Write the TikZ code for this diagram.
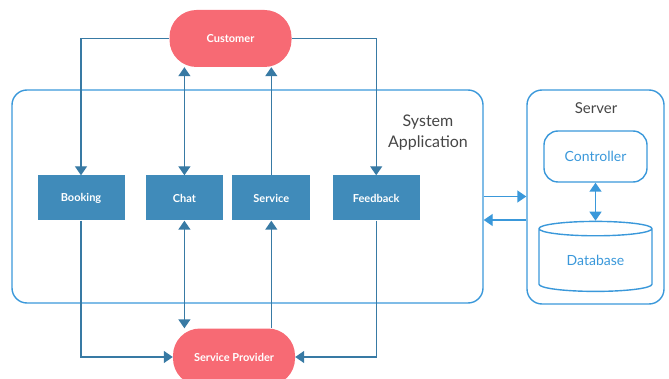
\documentclass[tikz,border=0pt]{standalone}
\usepackage{fontspec}
\setmainfont{Lato}
\usetikzlibrary{positioning, arrows.meta, shapes.geometric}
\definecolor{custred}{RGB}{247,106,116}
\definecolor{modblue}{RGB}{64,139,186}
\definecolor{linkblue}{RGB}{56,122,164}
\definecolor{frameblue}{RGB}{58,152,218}
\definecolor{txtgrey}{RGB}{70,70,70}
\tikzset{
  >={Triangle[width=12pt,length=9pt]},
  pill/.style={fill=custred, rounded corners=27pt, minimum width=122pt,
    minimum height=57pt, inner sep=0pt, text=white,
    font=\bfseries\fontsize{11}{13}\selectfont},
  module/.style={fill=modblue, minimum height=45pt, inner sep=0pt,
    text=white, font=\bfseries\fontsize{11}{13}\selectfont},
  frame/.style={draw=frameblue, line width=1.4pt, rounded corners=15pt, inner sep=0pt},
  link/.style={draw=linkblue, line width=1.4pt},
  srvlink/.style={draw=frameblue, line width=1.4pt},
}

\begin{document}
\begin{tikzpicture}[x=1pt, y=-1pt]
  \clip (0,0) rectangle (669,379);

  % containers
  \node[frame, minimum width=471pt, minimum height=213pt] (sys) at (247.5,196.5) {};
  \node[frame, minimum width=137pt, minimum height=214pt] (srv) at (595.5,197) {};
  \node[text=txtgrey, align=center, font=\fontsize{16}{21}\selectfont] (sysl) at (428,133) {System\\Application};
  \node[text=txtgrey, font=\fontsize{15}{18}\selectfont] (srvl) at (596,108) {Server};

  % actors
  \node[pill] (cust) at (230.5,38.5) {Customer};
  \node[pill] (sp) at (234,357) {Service Provider};

  % modules
  \node[module, minimum width=87pt] (book) at (81,198) {Booking};
  \node[module, minimum width=77pt, right=21pt of book] (chat) {Chat};
  \node[module, minimum width=78pt, right=9pt of chat] (serv) {Service};
  \node[module, minimum width=87pt, right=22pt of serv] (feed) {Feedback};

  % server parts
  \node[draw=frameblue, line width=1.4pt, rounded corners=14pt, minimum width=103pt,
    minimum height=51pt, text=frameblue, font=\fontsize{14}{17}\selectfont] (ctrl) at (595.5,156.5) {Controller};
  \node[draw=frameblue, line width=1.4pt, cylinder, shape border rotate=90, aspect=0.25,
    minimum width=113pt, minimum height=70pt, inner sep=0pt, text=frameblue,
    font=\fontsize{14}{17}\selectfont, below=38pt of ctrl] (db) {Database};

  % customer links
  \draw[link, ->] (cust.west) -| (book.north);
  \draw[link, ->] (cust.east) -| (feed.north);
  \draw[link, <->] (chat.north) -- (chat.north |- cust.south);
  \draw[link, ->] (serv.north) -- (serv.north |- cust.south);

  % provider links
  \draw[link, ->] (book.south) |- (sp.west);
  \draw[link, ->] (feed.south) |- (sp.east);
  \draw[link, <->] (chat.south) -- (chat.south |- sp.north);
  \draw[link, ->] (serv.south |- sp.north) -- (serv.south);

  % server links
  \draw[srvlink, ->] (sys.east) -- (sys.east -| srv.west);
  \draw[srvlink, ->] ([yshift=-23pt]srv.west) -- ([yshift=-23pt]srv.west -| sys.east);
  \draw[srvlink, <->] (ctrl.south) -- (db.north);
\end{tikzpicture}
\end{document}
